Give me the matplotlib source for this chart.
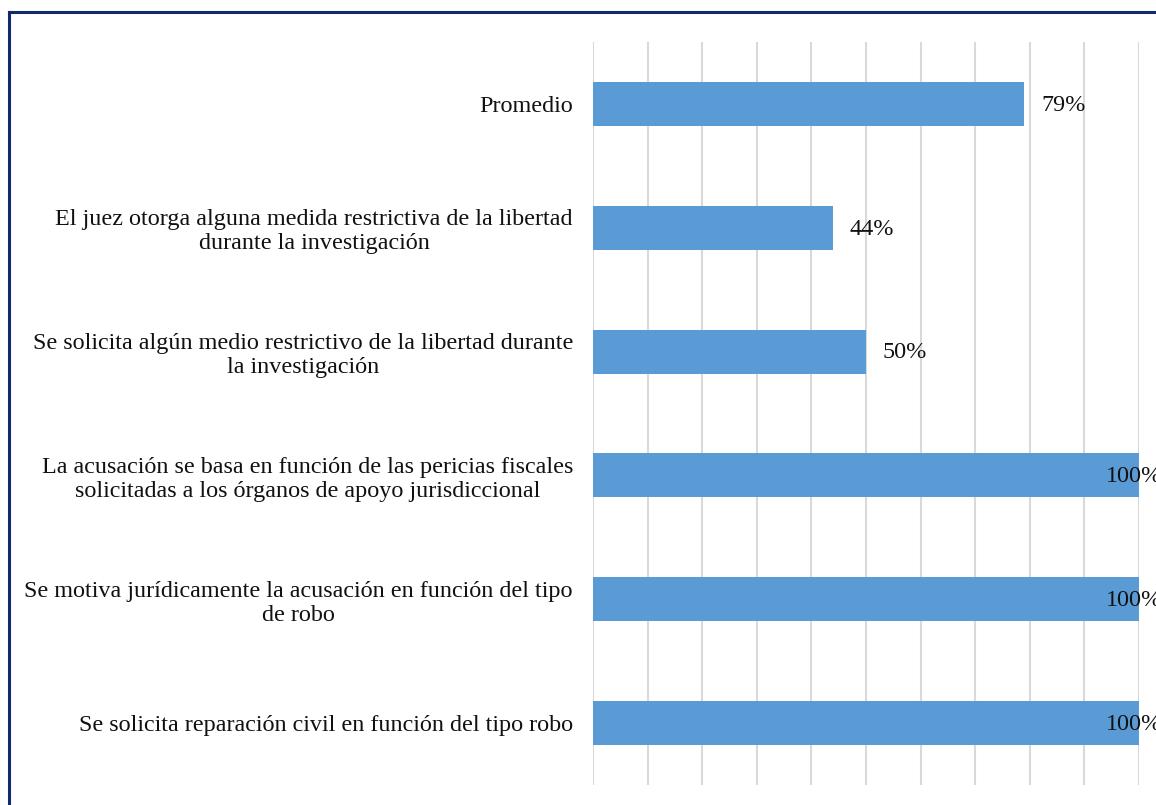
import matplotlib.pyplot as plt
from matplotlib.lines import Line2D

# data (top to bottom as in the chart)
categories = [
    "Promedio",
    "El juez otorga alguna medida restrictiva de la libertad\ndurante la investigación",
    "Se solicita algún medio restrictivo de la libertad durante\nla investigación",
    "La acusación se basa en función de las pericias fiscales\nsolicitadas a los órganos de apoyo jurisdiccional",
    "Se motiva jurídicamente la acusación en función del tipo\nde robo",
    "Se solicita reparación civil en función del tipo robo",
]
values = [79, 44, 50, 100, 100, 100]

plt.rcParams['font.family'] = ['Liberation Serif', 'DejaVu Serif']

fig = plt.figure(figsize=(11.56, 8.05), dpi=100)
ax = fig.add_axes([0.513, 0.0248, 0.4723, 0.923])

n = len(categories)
ypos = list(range(n))
ax.barh(ypos, values, height=0.355, color='#5B9BD5', zorder=3)

ax.set_xlim(0, 100)
ax.set_ylim(n - 0.5, -0.5)
ax.set_xticks(range(0, 101, 10))
ax.xaxis.grid(True, color='#D9D9D9', linewidth=1.5, zorder=0)
ax.tick_params(axis='x', length=0, labelbottom=False)
ax.tick_params(axis='y', length=0, pad=14.5)
ax.set_yticks(ypos)
ax.set_yticklabels(categories, fontsize=17.4, multialignment='center',
                   linespacing=1.2, color='#111111')
for s in ax.spines.values():
    s.set_visible(False)

for y, v in zip(ypos, values):
    off = 12 if v < 95 else -24
    ax.annotate(f"{v}%", (v, y), xytext=(off, -1), textcoords='offset points',
                ha='left', va='center', fontsize=17.4, color='#111111',
                annotation_clip=False, zorder=4)

# outer frame (partially cropped in the original)
fig.add_artist(Line2D([8.5 / 1156, 8.5 / 1156], [0, 1 - 12.5 / 805], transform=fig.transFigure,
                      color='#0F2B6E', linewidth=2.2))
fig.add_artist(Line2D([8.5 / 1156, 1], [1 - 12.5 / 805, 1 - 12.5 / 805], transform=fig.transFigure,
                      color='#0F2B6E', linewidth=2.2))

fig.savefig('out.png', dpi=100)
